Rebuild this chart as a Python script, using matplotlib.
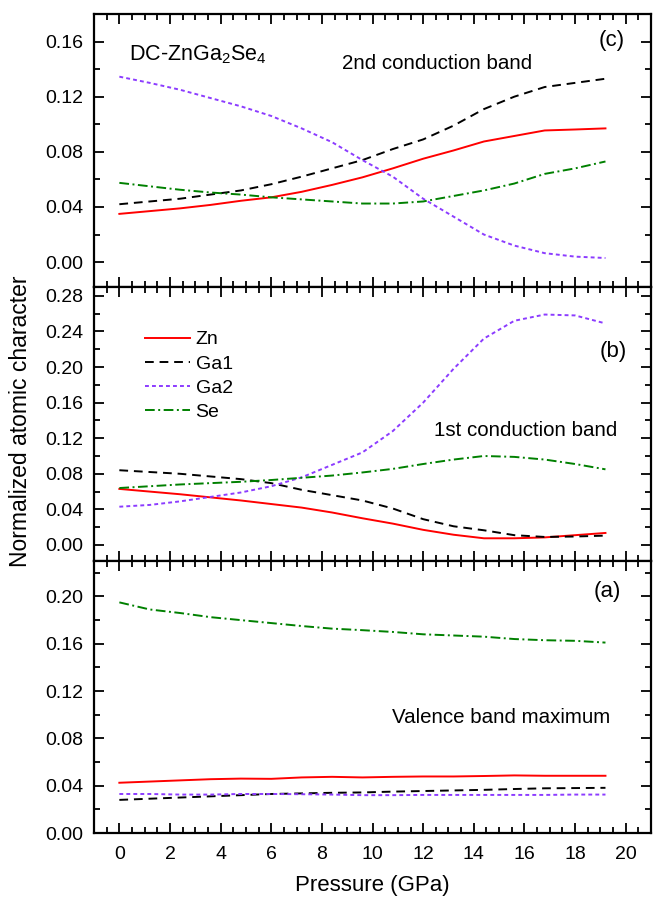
import numpy as np
import matplotlib
matplotlib.use("Agg")
import matplotlib.pyplot as plt

plt.rcParams["font.family"] = ["Liberation Sans", "DejaVu Sans"]
plt.rcParams["mathtext.fontset"] = "custom"
plt.rcParams["mathtext.rm"] = "Liberation Sans"

# pressure grid (GPa)
P = [0, 1.2, 2.4, 3.6, 4.8, 6.0, 7.2, 8.4, 9.6, 10.8, 12.0, 13.2, 14.4, 15.6, 16.8, 18.0, 19.2]

# (c) 2nd conduction band
cb2_zn = [0.035, 0.037, 0.039, 0.0415, 0.0445, 0.047, 0.051, 0.056, 0.0615, 0.068, 0.075, 0.081, 0.0875, 0.0915, 0.0955, 0.0962, 0.097]
cb2_ga1 = [0.042, 0.044, 0.046, 0.049, 0.052, 0.0565, 0.062, 0.068, 0.074, 0.082, 0.089, 0.099, 0.111, 0.120, 0.127, 0.130, 0.133]
cb2_ga2 = [0.1345, 0.130, 0.125, 0.119, 0.113, 0.106, 0.097, 0.087, 0.074, 0.062, 0.046, 0.033, 0.020, 0.012, 0.0065, 0.004, 0.003]
cb2_se = [0.0575, 0.055, 0.0525, 0.0505, 0.049, 0.047, 0.0455, 0.044, 0.0425, 0.0425, 0.044, 0.048, 0.052, 0.057, 0.064, 0.068, 0.073]

# (b) 1st conduction band
cb1_zn = [0.063, 0.060, 0.057, 0.0535, 0.050, 0.046, 0.042, 0.0365, 0.030, 0.024, 0.017, 0.0115, 0.0075, 0.0075, 0.0085, 0.011, 0.0135]
cb1_ga1 = [0.084, 0.082, 0.080, 0.077, 0.074, 0.0695, 0.062, 0.056, 0.050, 0.041, 0.029, 0.021, 0.0165, 0.011, 0.009, 0.0095, 0.0105]
cb1_ga2 = [0.043, 0.045, 0.049, 0.054, 0.059, 0.066, 0.076, 0.090, 0.104, 0.128, 0.160, 0.198, 0.232, 0.252, 0.259, 0.258, 0.249]
cb1_se = [0.064, 0.066, 0.068, 0.0695, 0.071, 0.073, 0.0755, 0.078, 0.0815, 0.0855, 0.091, 0.096, 0.100, 0.099, 0.096, 0.091, 0.085]

# (a) valence band maximum
vb_zn = [0.0425, 0.0435, 0.0445, 0.0455, 0.046, 0.0458, 0.047, 0.0475, 0.047, 0.0475, 0.0478, 0.0478, 0.0482, 0.0487, 0.0484, 0.0484, 0.0484]
vb_ga1 = [0.028, 0.029, 0.030, 0.031, 0.032, 0.033, 0.0335, 0.034, 0.0343, 0.035, 0.0355, 0.036, 0.0365, 0.0372, 0.0378, 0.038, 0.0382]
vb_ga2 = [0.033, 0.033, 0.0325, 0.0325, 0.033, 0.033, 0.0328, 0.0325, 0.032, 0.032, 0.0322, 0.0322, 0.0322, 0.0322, 0.0322, 0.0325, 0.0325]
vb_se = [0.195, 0.189, 0.186, 0.1825, 0.180, 0.1775, 0.175, 0.1728, 0.1715, 0.170, 0.168, 0.167, 0.166, 0.164, 0.163, 0.1625, 0.161]

labels = ["Zn", "Ga1", "Ga2", "Se"]
styles = [
    dict(color="#ff0000", ls="-"),
    dict(color="#000000", ls=(0, (4.5, 3))),
    dict(color="#8c3cff", ls=(0, (2, 1.6))),
    dict(color="#008000", ls=(0, (5, 1.8, 1, 1.8))),
]

fig = plt.figure(figsize=(6.53, 8.99), dpi=100)
L, W = 0.144, 0.853
ax_c = fig.add_axes([L, 0.6808, W, 0.3037])
ax_b = fig.add_axes([L, 0.3760, W, 0.3048])
ax_a = fig.add_axes([L, 0.0734, W, 0.3026])

panels = [
    (ax_c, [cb2_zn, cb2_ga1, cb2_ga2, cb2_se], (-0.018, 0.18), np.arange(0, 0.161, 0.04)),
    (ax_b, [cb1_zn, cb1_ga1, cb1_ga2, cb1_se], (-0.018, 0.29), np.arange(0, 0.281, 0.04)),
    (ax_a, [vb_zn, vb_ga1, vb_ga2, vb_se], (0.0, 0.23), np.arange(0, 0.201, 0.04)),
]

for ax, series, ylim, yt in panels:
    for y, lab, st in zip(series, labels, styles):
        ax.plot(P, y, lw=1.4, label=lab, **st)
    ax.set_xlim(-1, 21)
    ax.set_ylim(*ylim)
    ax.set_xticks(np.arange(0, 21, 2))
    ax.set_xticks(np.arange(-0.5, 21, 0.5), minor=True)
    ax.set_yticks(yt)
    ax.set_yticks(np.arange(0, ylim[1], 0.02), minor=True)
    ax.set_yticklabels([f"{v:.2f}" for v in yt])
    ax.tick_params(which="both", direction="in", top=True, right=True, width=1.3, labelsize=14)
    ax.tick_params(which="major", length=7)
    ax.tick_params(which="minor", length=4)
    ax.tick_params(axis="y", pad=7.5)
    for s in ax.spines.values():
        s.set_linewidth(1.6)
    if ax is not ax_a:
        ax.tick_params(labelbottom=False)

ax_a.tick_params(axis="x", pad=9)
ax_a.set_xlabel("Pressure (GPa)", fontsize=16, labelpad=9)
fig.text(0.031, 0.531, "Normalized atomic character", rotation=90, fontsize=16.5,
         ha="center", va="center")

ax_c.text(0.063, 0.8315, r"DC-ZnGa$_\mathregular{2}$Se$_\mathregular{4}$", transform=ax_c.transAxes,
          fontsize=15.5, ha="left", va="baseline")
ax_c.text(0.616, 0.7985, "2nd conduction band", transform=ax_c.transAxes, fontsize=14.8,
          ha="center", va="baseline")
ax_c.text(0.953, 0.901, "(c)", transform=ax_c.transAxes, fontsize=16, ha="right", va="center")

ax_b.text(0.774, 0.456, "1st conduction band", transform=ax_b.transAxes, fontsize=14.8,
          ha="center", va="baseline")
ax_b.text(0.956, 0.766, "(b)", transform=ax_b.transAxes, fontsize=16, ha="right", va="center")
ax_b.legend(loc="upper left", bbox_to_anchor=(0.0916, 0.84), frameon=False, fontsize=14,
            handlelength=2.3, handletextpad=0.3, labelspacing=0.34, borderpad=0, borderaxespad=0)

ax_a.text(0.730, 0.404, "Valence band maximum", transform=ax_a.transAxes, fontsize=14.8,
          ha="center", va="baseline")
ax_a.text(0.946, 0.886, "(a)", transform=ax_a.transAxes, fontsize=16, ha="right", va="center")

fig.savefig("out.png", dpi=100)
